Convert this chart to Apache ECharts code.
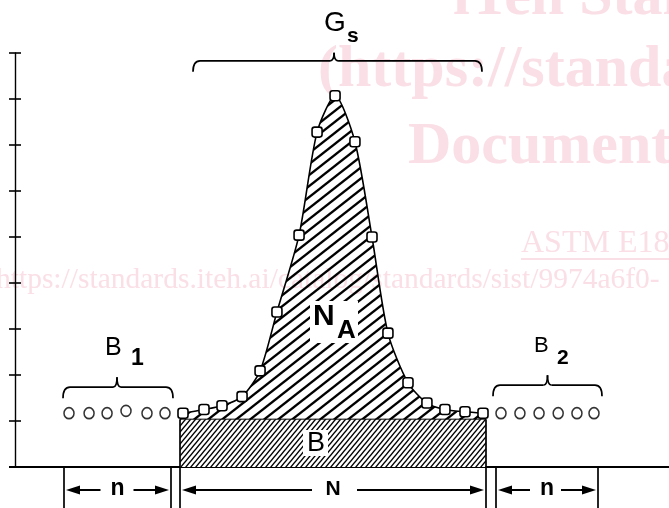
<!DOCTYPE html>
<html><head><meta charset="utf-8">
<script src="https://cdn.jsdelivr.net/npm/echarts@6/dist/echarts.min.js"></script>
<style>html,body{margin:0;padding:0;background:#fff}#c{width:669px;height:508px}</style>
</head><body><div id="c"></div>
<script>
// ---- data (channel number vs. counts, arbitrary units) ----
const b1Channels   = [3.00, 4.07, 5.03, 6.04, 7.16, 8.12];
const b1Counts     = [1.17, 1.17, 1.17, 1.22, 1.17, 1.17];
const peakChannels = [9.08, 10.20, 11.16, 12.23, 13.19, 14.09, 15.27, 16.23, 17.19, 18.25, 19.16, 20.01, 21.08, 22.09, 23.05, 24.12, 25.08];
const peakCounts   = [1.17, 1.25, 1.33, 1.53, 2.09, 3.37, 5.04, 7.28, 8.07, 7.07, 5.00, 2.91, 1.83, 1.39, 1.25, 1.20, 1.17];
const b2Channels   = [26.04, 27.05, 28.07, 29.09, 30.09, 31.00];
const b2Counts     = [1.17, 1.17, 1.17, 1.17, 1.17, 1.17];
const backgroundLevel = 1.04;          // B
const peakRegion      = [8.92, 25.24]; // N channels
const yTickCount      = 9;             // ticks 0..9

const zip = (xs, ys) => xs.map((x, i) => [x, ys[i]]);

function hatch(w, h, lw, bg) {
  const c = document.createElement('canvas');
  c.width = w; c.height = h;
  const g = c.getContext('2d');
  if (bg) { g.fillStyle = bg; g.fillRect(0, 0, w, h); }
  g.strokeStyle = '#000'; g.lineWidth = lw;
  for (let k = -1; k <= 1; k++) {
    g.beginPath();
    g.moveTo(k * w - w, 2 * h);
    g.lineTo(k * w + 2 * w, -h);
    g.stroke();
  }
  return c;
}
const naPattern = { image: hatch(14, 11, 2.3, null), repeat: 'repeat' };
const bPattern  = { image: hatch(5, 6, 1.4, '#ffffff'), repeat: 'repeat' };

const chart = echarts.init(document.getElementById('c'), null, { renderer: 'canvas' });
const markerStyle = { color: '#fff', borderColor: '#000', borderWidth: 1.6 };

chart.setOption({
  animation: false,
  backgroundColor: '#fff',
  grid: { left: 15, right: 0, top: 53, bottom: 41 },
  xAxis: {
    type: 'value', min: 0.12, max: 35,
    axisLine: { show: true, lineStyle: { color: '#000', width: 2 } },
    axisTick: { show: false }, axisLabel: { show: false }, splitLine: { show: false }
  },
  yAxis: [
    { type: 'value', min: 0, max: yTickCount, interval: 1, position: 'left',
      axisLine: { show: true, lineStyle: { color: '#000', width: 1.4 } },
      axisTick: { show: true, inside: false, length: 6, lineStyle: { color: '#000', width: 1.6 } },
      axisLabel: { show: false }, splitLine: { show: false } },
    { type: 'value', min: 0, max: yTickCount, interval: 1, position: 'left', offset: 0,
      axisLine: { show: false },
      axisTick: { show: true, inside: true, length: 6, lineStyle: { color: '#000', width: 1.6 } },
      axisLabel: { show: false }, splitLine: { show: false } }
  ],
  series: [
    { name: 'N_A', type: 'line', z: 2, data: zip(peakChannels, peakCounts), smooth: 0.25,
      symbol: 'none', lineStyle: { width: 0, opacity: 0 },
      areaStyle: { color: naPattern, opacity: 1 } },
    { name: 'B', type: 'line', z: 3, data: [[peakRegion[0], backgroundLevel], [peakRegion[1], backgroundLevel]],
      symbol: 'none', lineStyle: { color: '#000', width: 1 },
      areaStyle: { color: bPattern, opacity: 1 } },
    { name: 'Gs', type: 'line', z: 4, data: zip(peakChannels, peakCounts), smooth: 0.25,
      symbol: 'roundRect', symbolSize: 10, showAllSymbol: true,
      lineStyle: { color: '#000', width: 1.6 }, itemStyle: markerStyle },
    { name: 'B1', type: 'scatter', z: 4, data: zip(b1Channels, b1Counts),
      symbol: 'circle', symbolSize: [10, 11], itemStyle: markerStyle },
    { name: 'B2', type: 'scatter', z: 4, data: zip(b2Channels, b2Counts),
      symbol: 'circle', symbolSize: [10, 11], itemStyle: markerStyle }
  ]
});

// ---- annotations positioned from the data through the chart's scales ----
const px = (x, y) => chart.convertToPixel({ gridIndex: 0 }, [x, y]);
const b1First = px(b1Channels[0], b1Counts[0]);
const b1Last  = px(b1Channels[b1Channels.length - 1], b1Counts[0]);
const b2First = px(b2Channels[0], b2Counts[0]);
const b2Last  = px(b2Channels[b2Channels.length - 1], b2Counts[0]);
const pkFirst = px(peakChannels[0], peakCounts[0]);
const pkLast  = px(peakChannels[peakChannels.length - 1], peakCounts[0]);
const pkIdx   = peakCounts.indexOf(Math.max(...peakCounts));
const pkTop   = px(peakChannels[pkIdx], peakCounts[pkIdx]);
const rectL   = px(peakRegion[0], backgroundLevel);
const rectR   = px(peakRegion[1], backgroundLevel);
const origin  = px(0.12, 0);
const axisY   = origin[1];
const H = 508;

const black = '#000';
const pink = '#fadfe6';
const g = [];
const serif = '"Liberation Serif", "DejaVu Serif", serif';
const sans = '"Liberation Sans", Arial, sans-serif';

// watermark
function wm(text, x, y, font) {
  g.push({ type: 'text', z: 0, x, y, silent: true,
    style: { text, font, fill: pink, textAlign: 'left', textVerticalAlign: 'middle' } });
}
wm('iTeh Standards', 453, -2, 'bold 60px ' + serif);
wm('(https://standards.iteh.ai)', 318, 70, 'bold 60px ' + serif);
wm('Document Preview', 408, 147, 'bold 60px ' + serif);
wm('ASTM E18', 521, 244, '32px ' + serif);
g.push({ type: 'rect', z: 0, silent: true, shape: { x: 521, y: 258, width: 160, height: 2 }, style: { fill: pink } });
wm('https://standards.iteh.ai/catalog/standards/sist/9974a6f0-', -4, 280, '29.5px ' + serif);

// left extension of the baseline
g.push({ type: 'line', z: 5, shape: { x1: 9, y1: axisY, x2: origin[0], y2: axisY }, style: { stroke: black, lineWidth: 2 } });

// braces
const braceStyle = { stroke: black, lineWidth: 1.7, fill: null };
function seg(x1, y1, x2, y2) {
  g.push({ type: 'line', z: 10, shape: { x1, y1, x2, y2 }, style: braceStyle });
}
function curve(x1, y1, cx, cy, x2, y2) {
  g.push({ type: 'bezierCurve', z: 10, shape: { x1, y1, x2, y2, cpx1: cx, cpy1: cy }, style: braceStyle });
}
function brace(xL, xR, xm, y, drop, rise) {
  curve(xL, y + drop, xL, y, xL + 7, y);
  seg(xL + 7, y, xm - 4, y);
  curve(xm - 4, y, xm, y, xm, y - rise);
  curve(xm, y - rise, xm, y, xm + 4, y);
  seg(xm + 4, y, xR - 7, y);
  curve(xR - 7, y, xR, y, xR, y + drop);
}
brace(pkFirst[0] + 10, pkLast[0] - 1, pkTop[0] - 1, pkTop[1] - 35, 11, 8);
brace(b1First[0] - 6, b1Last[0] + 8, (b1First[0] + b1Last[0]) / 2, b1First[1] - 26, 11, 10);
brace(b2First[0] - 8, b2Last[0] + 8, (b2First[0] + b2Last[0]) / 2, b2First[1] - 28, 11, 10);

// dimension lines
function vline(x, y1) {
  g.push({ type: 'line', z: 10, shape: { x1: x, y1, x2: x, y2: H }, style: { stroke: black, lineWidth: 1.7 } });
}
const dL1 = b1First[0] - 5, dR1 = b1Last[0] + 6, dL2 = b2First[0] - 5, dR2 = b2Last[0] + 4;
vline(dL1, axisY); vline(dR1, axisY); vline(dL2, axisY); vline(dR2, axisY);
vline(rectL[0], rectL[1]); vline(rectR[0], rectR[1]);

const ay = 490;
function dim(a, b, label, gapL, gapR, fs) {
  const c = (a + b) / 2;
  const tl = a + 2, tr = b - 2, hl = 14, hh = 4.5;
  g.push({ type: 'polygon', z: 10, shape: { points: [[tl, ay], [tl + hl, ay - hh], [tl + hl, ay + hh]] }, style: { fill: black } });
  g.push({ type: 'polygon', z: 10, shape: { points: [[tr, ay], [tr - hl, ay - hh], [tr - hl, ay + hh]] }, style: { fill: black } });
  g.push({ type: 'line', z: 10, shape: { x1: tl + hl, y1: ay, x2: c - gapL, y2: ay }, style: { stroke: black, lineWidth: 2 } });
  g.push({ type: 'line', z: 10, shape: { x1: c + gapR, y1: ay, x2: tr - hl, y2: ay }, style: { stroke: black, lineWidth: 2 } });
  g.push({ type: 'text', z: 10, x: c, y: ay - 1, style: { text: label, font: 'bold ' + fs + 'px ' + sans, fill: black, textAlign: 'center', textVerticalAlign: 'middle' } });
}
dim(dL1, dR1, 'n', 17, 16, 23);
dim(rectL[0], rectR[0], 'N', 21, 24, 21);
dim(dL2, dR2, 'n', 17, 14, 23);

// labels
function txt(text, x, y, font, align) {
  g.push({ type: 'text', z: 12, x, y, style: { text, font, fill: black, textAlign: align || 'left', textVerticalAlign: 'middle' } });
}
txt('G', 324, 23.5, '28px ' + sans);
txt('s', 347, 36, 'bold 21px ' + sans);
g.push({ type: 'rect', z: 11, shape: { x: 310, y: 301, width: 48, height: 42 }, style: { fill: '#fff' } });
txt('N', 313, 317, 'bold 30px ' + sans);
txt('A', 337, 331, 'bold 26px ' + sans);
g.push({ type: 'rect', z: 11, shape: { x: 303, y: 430, width: 25, height: 26 }, style: { fill: '#fff' } });
txt('B', 316, 444, '27px ' + sans, 'center');
txt('B', 105, 348, '25px ' + sans);
txt('1', 131, 359, 'bold 23px ' + sans);
txt('B', 534, 345.5, '22px ' + sans);
txt('2', 557, 358, 'bold 21px ' + sans);

chart.setOption({ graphic: { elements: g } });
</script>
</body></html>
